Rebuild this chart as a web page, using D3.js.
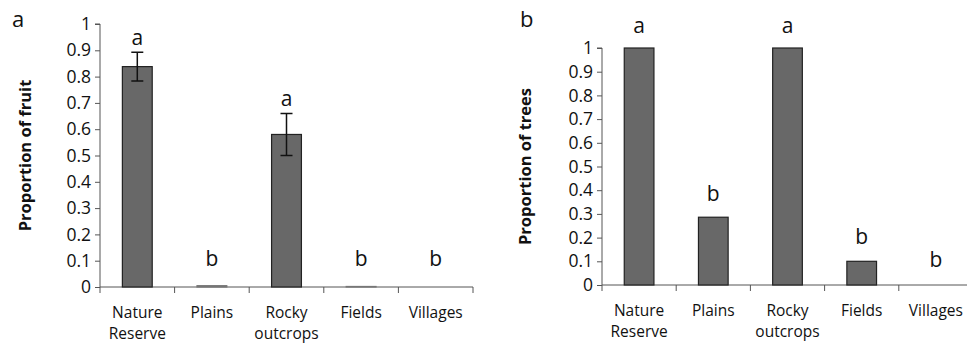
<!DOCTYPE html>
<html>
<head>
<meta charset="utf-8">
<script src="https://cdn.jsdelivr.net/npm/d3@7"></script>
<style>
  body { margin: 0; background: #fff; }
  text { font-family: "Open Sans", "DejaVu Sans", sans-serif; fill: #111; }
</style>
</head>
<body>
<script>
// habitat categories, shared by both panels
const habitats = ["Nature Reserve", "Plains", "Rocky outcrops", "Fields", "Villages"];

// panel a: proportion of fruit
const fruitValues = [0.838, 0.005, 0.58, 0.002, 0];
const fruitErrors = [0.055, 0, 0.08, 0, 0];
const fruitLetters = ["a", "b", "a", "b", "b"];
const fruitLetterAt = [0.92, 0.08, 0.69, 0.08, 0.08];

// panel b: proportion of trees
const treeValues = [1, 0.286, 1, 0.1, 0];
const treeLetters = ["a", "b", "a", "b", "b"];
const treeLetterAt = [1.065, 0.355, 1.065, 0.175, 0.078];

const yTicks = [0, 0.1, 0.2, 0.3, 0.4, 0.5, 0.6, 0.7, 0.8, 0.9, 1];

const width = 967, height = 343;
const svg = d3.select("body").append("svg")
    .attr("width", width)
    .attr("height", height);

function panel(opts) {
  const g = svg.append("g");
  const x = d3.scaleBand()
      .domain(habitats)
      .range([opts.x0, opts.x1])
      .paddingInner(0.6)
      .paddingOuter(0.3);
  const xb = d3.scaleBand().domain(habitats).range([opts.x0, opts.x1]);
  const y = d3.scaleLinear().domain([0, 1]).range([opts.y0, opts.y1]);

  // y axis
  const ya = g.append("g")
      .attr("transform", `translate(${opts.x0},0)`)
      .call(d3.axisLeft(y).tickValues(yTicks).tickSize(5).tickSizeOuter(5).tickPadding(4)
        .tickFormat(d => d3.format("")(+d.toFixed(1))));
  ya.select(".domain").attr("stroke", "#555").attr("d", `M-5,${opts.y1}H0V${opts.y0 + 6}`);
  ya.selectAll(".tick line").attr("stroke", "#555");
  ya.selectAll(".tick text")
      .style("font-size", "17.5px")
      .style("font-family", '"Open Sans", sans-serif')
      .attr("fill", "#111");

  // x axis line + tick marks at band edges
  g.append("line")
      .attr("x1", opts.x0).attr("x2", opts.x1)
      .attr("y1", opts.y0).attr("y2", opts.y0)
      .attr("stroke", "#555");
  g.selectAll(".xtick")
    .data(habitats.slice(1).concat(["end"]))
    .join("line")
      .attr("x1", (d, i) => i < 4 ? xb(d) : opts.x1)
      .attr("x2", (d, i) => i < 4 ? xb(d) : opts.x1)
      .attr("y1", opts.y0).attr("y2", opts.y0 + 6)
      .attr("stroke", "#555");

  // bars
  g.selectAll(".bar")
    .data(habitats)
    .join("rect")
      .attr("x", d => x(d))
      .attr("width", x.bandwidth())
      .attr("y", (d, i) => y(opts.values[i]))
      .attr("height", (d, i) => y(0) - y(opts.values[i]))
      .attr("fill", "#686868")
      .attr("stroke", (d, i) => opts.values[i] > 0.01 ? "#222" : "#777")
      .attr("stroke-width", (d, i) => opts.values[i] > 0 ? 1.2 : 0);

  // error bars
  if (opts.errors) {
    const eb = habitats.map((d, i) => ({ d, v: opts.values[i], e: opts.errors[i] })).filter(o => o.e > 0);
    const cx = o => x(o.d) + x.bandwidth() / 2;
    g.selectAll(".err").data(eb).join("path")
        .attr("d", o => `M${cx(o)},${y(o.v + o.e)}V${y(o.v - o.e)}M${cx(o) - 6},${y(o.v + o.e)}h12M${cx(o) - 6},${y(o.v - o.e)}h12`)
        .attr("fill", "none")
        .attr("stroke", "#111")
        .attr("stroke-width", 1.5);
  }

  // significance letters
  g.selectAll(".letter")
    .data(habitats)
    .join("text")
      .attr("x", d => x(d) + x.bandwidth() / 2)
      .attr("y", (d, i) => y(opts.letterAt[i]))
      .attr("text-anchor", "middle")
      .style("font-size", "21px")
      .text((d, i) => opts.letters[i]);

  // category labels
  const lab = g.selectAll(".cat")
    .data(habitats)
    .join("text")
      .attr("x", d => xb(d) + xb.bandwidth() / 2)
      .attr("y", opts.y0 + 31)
      .attr("text-anchor", "middle")
      .style("font-size", "15.5px");
  lab.each(function(d) {
    const words = d.split(" ");
    d3.select(this).selectAll("tspan")
      .data(words)
      .join("tspan")
        .attr("x", xb(d) + xb.bandwidth() / 2)
        .attr("dy", (w, j) => j ? 20.5 : 0)
        .text(w => w);
  });

  // y axis title
  g.append("text")
      .attr("transform", `translate(${opts.titleX},${(opts.y0 + opts.y1) / 2}) rotate(-90)`)
      .attr("text-anchor", "middle")
      .style("font-size", "16.5px")
      .style("font-weight", "bold")
      .text(opts.title);

  // panel letter
  g.append("text")
      .attr("x", opts.tagX)
      .attr("y", 27)
      .style("font-size", "22px")
      .text(opts.tag);
}

panel({
  x0: 100, x1: 473, y0: 287, y1: 24,
  values: fruitValues, errors: fruitErrors,
  letters: fruitLetters, letterAt: fruitLetterAt,
  title: "Proportion of fruit", titleX: 31, tag: "a", tagX: 12
});

panel({
  x0: 602, x1: 973, y0: 285, y1: 48,
  values: treeValues, errors: null,
  letters: treeLetters, letterAt: treeLetterAt,
  title: "Proportion of trees", titleX: 531, tag: "b", tagX: 520
});
</script>
</body>
</html>
